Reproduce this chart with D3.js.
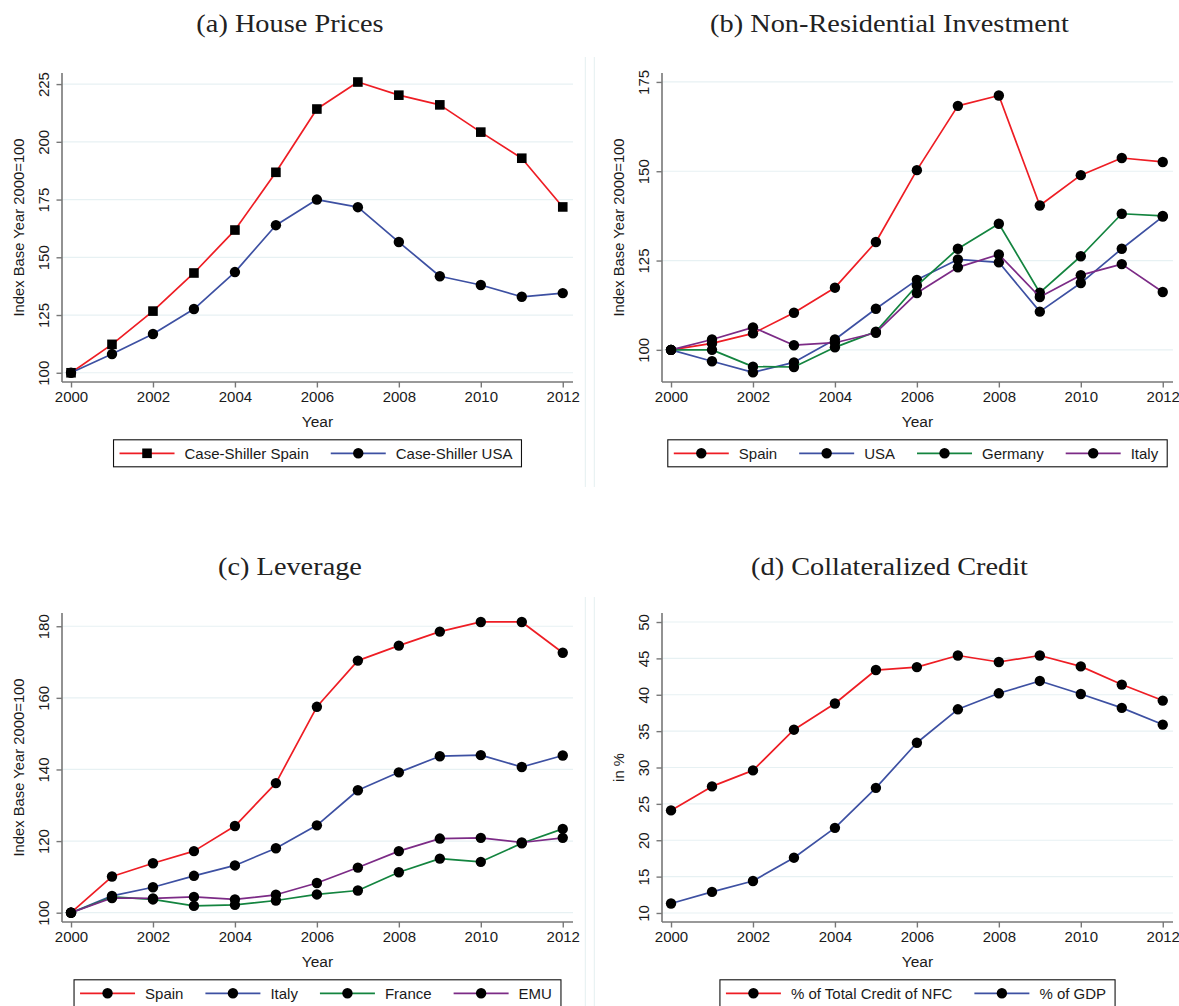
<!DOCTYPE html>
<html>
<head>
<meta charset="utf-8">
<script src="https://cdn.jsdelivr.net/npm/d3@7"></script>
<style>
  body { margin: 0; background: #ffffff; }
  svg { display: block; }
  text { font-family: "Liberation Sans", Arial, Helvetica, sans-serif; fill: #1a1a1a; }
  .title { font-family: "Liberation Serif", "Times New Roman", serif; fill: #222222; }
</style>
</head>
<body>
<svg id="fig" width="1179" height="1006"></svg>
<script>
// ---- data ----
const years = [2000, 2001, 2002, 2003, 2004, 2005, 2006, 2007, 2008, 2009, 2010, 2011, 2012];
const yearTicks = [2000, 2002, 2004, 2006, 2008, 2010, 2012];

// (a) house prices, index 2000=100
const priceSpain = [100, 112.3, 126.7, 143.2, 161.8, 186.8, 214.2, 225.9, 220.2, 216.0, 204.2, 192.9, 171.8];
const priceUSA   = [100, 108.1, 116.8, 127.6, 143.6, 163.9, 175.0, 171.7, 156.6, 141.8, 138.0, 132.9, 134.5];
const priceTicks = [100, 125, 150, 175, 200, 225];

// (b) non-residential investment, index 2000=100
const invSpain   = [100, 101.8, 104.6, 110.4, 117.4, 130.2, 150.3, 168.3, 171.2, 140.4, 148.9, 153.7, 152.6];
const invUSA     = [100, 96.8, 93.7, 96.5, 102.9, 111.5, 119.6, 125.3, 124.5, 110.7, 118.7, 128.3, 137.3];
const invGermany = [100, 100.0, 95.3, 95.2, 100.7, 105.1, 118.0, 128.3, 135.3, 116.0, 126.2, 138.1, 137.5];
const invItaly   = [100, 102.9, 106.3, 101.3, 102.0, 104.8, 115.9, 123.1, 126.7, 114.8, 120.9, 124.0, 116.2];
const invTicks   = [100, 125, 150, 175];

// (c) leverage, index 2000=100
const levSpain  = [100, 110.1, 113.8, 117.2, 124.2, 136.2, 157.5, 170.4, 174.6, 178.5, 181.2, 181.2, 172.6];
const levItaly  = [100, 104.7, 107.1, 110.3, 113.2, 118.0, 124.4, 134.2, 139.2, 143.7, 144.0, 140.7, 143.9];
const levFrance = [100, 104.4, 103.7, 101.9, 102.2, 103.4, 105.1, 106.2, 111.3, 115.1, 114.2, 119.4, 123.4];
const levEMU    = [100, 104.1, 104.0, 104.4, 103.7, 105.0, 108.3, 112.6, 117.2, 120.7, 120.9, 119.6, 120.9];
const levTicks  = [100, 120, 140, 160, 180];

// (d) collateralized credit, in %
const creditNFC = [24.1, 27.4, 29.6, 35.2, 38.8, 43.4, 43.8, 45.4, 44.5, 45.4, 43.9, 41.4, 39.2];
const creditGDP = [11.3, 12.9, 14.4, 17.6, 21.7, 27.2, 33.4, 38.0, 40.2, 41.9, 40.1, 38.2, 35.9];
const creditTicks = [10, 15, 20, 25, 30, 35, 40, 45, 50];

const titles = ["(a) House Prices", "(b) Non-Residential Investment", "(c) Leverage", "(d) Collateralized Credit"];
const xLabel = "Year";
const indexLabel = "Index Base Year 2000=100";
const percentLabel = "in %";

// ---- styling ----
const RED = "#ee1d24", BLUE = "#3d50a2", GREEN = "#13843f", PURPLE = "#7c2b86";
const AXIS = "#777777", GRID = "#e7f1f3";

const panels = [
  { title: titles[0], col: 0, row: 0, yDomain: [96.0, 229.8], yTicks: priceTicks, yLabel: indexLabel,
    series: [
      { name: "Case-Shiller Spain", values: priceSpain, color: RED, marker: "square" },
      { name: "Case-Shiller USA", values: priceUSA, color: BLUE, marker: "circle" }
    ] },
  { title: titles[1], col: 1, row: 0, yDomain: [91.0, 177.5], yTicks: invTicks, yLabel: indexLabel,
    series: [
      { name: "Spain", values: invSpain, color: RED, marker: "circle" },
      { name: "USA", values: invUSA, color: BLUE, marker: "circle" },
      { name: "Germany", values: invGermany, color: GREEN, marker: "circle" },
      { name: "Italy", values: invItaly, color: PURPLE, marker: "circle" }
    ] },
  { title: titles[2], col: 0, row: 1, yDomain: [97.4, 183.7], yTicks: levTicks, yLabel: indexLabel,
    series: [
      { name: "Spain", values: levSpain, color: RED, marker: "circle" },
      { name: "Italy", values: levItaly, color: BLUE, marker: "circle" },
      { name: "France", values: levFrance, color: GREEN, marker: "circle" },
      { name: "EMU", values: levEMU, color: PURPLE, marker: "circle" }
    ] },
  { title: titles[3], col: 1, row: 1, yDomain: [8.76, 51.24], yTicks: creditTicks, yLabel: percentLabel,
    series: [
      { name: "% of Total Credit of NFC", values: creditNFC, color: RED, marker: "circle" },
      { name: "% of GDP", values: creditGDP, color: BLUE, marker: "circle" }
    ] }
];

// ---- layout ----
const colX = [62, 662];          // left edge of each plot region
const rowY = [73, 613];          // top edge of each plot region
const plotW = 511, plotH = 309;
const titleCX = [290, 889.5];
const titleBase = [31.7, 574.7];
const frameX = [585.3, 594.3];
const xDomain = [1999.78, 2012.25];

const svg = d3.select("#fig");

// faint frames between the sub-figures
[[57, 487], [597, 1006]].forEach(([a, b]) => {
  frameX.forEach(x => {
    svg.append("line").attr("x1", x).attr("x2", x).attr("y1", a).attr("y2", b)
      .attr("stroke", "#e4eff1").attr("stroke-width", 1);
  });
});

function drawMarker(g, type, x, y) {
  if (type === "square") {
    const s = 9.6;
    g.append("rect").attr("x", x - s / 2).attr("y", y - s / 2).attr("width", s).attr("height", s)
      .attr("fill", "#000");
  } else {
    g.append("circle").attr("cx", x).attr("cy", y).attr("r", 5.2).attr("fill", "#000");
  }
}

panels.forEach(p => {
  const x0 = colX[p.col], y0 = rowY[p.row];
  const x = d3.scaleLinear().domain(xDomain).range([x0, x0 + plotW]);
  const y = d3.scaleLinear().domain(p.yDomain).range([y0 + plotH, y0]);

  // title
  const tg = svg.append("g").attr("transform", `translate(${titleCX[p.col]},${titleBase[p.row]}) scale(1.09,1)`);
  tg.append("text").attr("class", "title").attr("text-anchor", "middle")
    .attr("font-size", 26).text(p.title);

  // gridlines
  svg.append("g").selectAll("line").data(p.yTicks).join("line")
    .attr("x1", x0).attr("x2", x0 + plotW)
    .attr("y1", d => y(d)).attr("y2", d => y(d))
    .attr("stroke", GRID).attr("stroke-width", 1.2);

  // y axis
  const ya = svg.append("g").attr("transform", `translate(${x0},0)`)
    .call(d3.axisLeft(y).tickValues(p.yTicks).tickSize(5.5).tickFormat(d3.format("d")));
  ya.select(".domain").attr("d", `M0,${y0}V${y0 + plotH}`).attr("stroke", AXIS).attr("stroke-width", 1.6);
  ya.selectAll(".tick line").attr("stroke", AXIS).attr("stroke-width", 1.4);
  ya.selectAll(".tick text")
    .attr("x", null).attr("dy", null).attr("y", null)
    .attr("text-anchor", "middle").attr("font-size", 15).attr("fill", "#1a1a1a")
    .attr("font-family", "Liberation Sans, Arial, sans-serif")
    .attr("transform", "translate(-13.3,0) rotate(-90)");

  // x axis
  const xa = svg.append("g").attr("transform", `translate(0,${y0 + plotH})`)
    .call(d3.axisBottom(x).tickValues(yearTicks).tickSize(5.5).tickFormat(d3.format("d")));
  xa.select(".domain").attr("d", `M${x0},0H${x0 + plotW}`).attr("stroke", AXIS).attr("stroke-width", 1.6);
  xa.selectAll(".tick line").attr("stroke", AXIS).attr("stroke-width", 1.4);
  xa.selectAll(".tick text")
    .attr("y", 19.5).attr("dy", null)
    .attr("font-size", 15).attr("fill", "#1a1a1a")
    .attr("font-family", "Liberation Sans, Arial, sans-serif");

  // axis titles
  svg.append("text").attr("x", x0 + plotW / 2).attr("y", y0 + plotH + 44.5)
    .attr("text-anchor", "middle").attr("font-size", 15.5).text(xLabel);
  svg.append("text")
    .attr("transform", `translate(${x0 - 37.7},${y0 + plotH / 2}) rotate(-90)`)
    .attr("text-anchor", "middle").attr("font-size", 14.8).text(p.yLabel);

  // series
  const line = d3.line().x((d, i) => x(years[i])).y(d => y(d));
  p.series.forEach(s => {
    const g = svg.append("g");
    g.append("path").attr("d", line(s.values)).attr("fill", "none")
      .attr("stroke", s.color).attr("stroke-width", 1.7).attr("stroke-linejoin", "round");
    s.values.forEach((v, i) => drawMarker(g, s.marker, x(years[i]), y(v)));
  });

  // legend
  const lg = svg.append("g");
  const boxTop = y0 + plotH + 57.8, boxH = 27;
  const cy = boxTop + boxH / 2;
  const keyLen = 55, keyGap = 10, itemGap = 22, padL = 6, padR = 9;
  let cx = 0;
  const items = lg.append("g");
  p.series.forEach((s, i) => {
    if (i > 0) cx += itemGap;
    items.append("line").attr("x1", cx).attr("x2", cx + keyLen).attr("y1", cy).attr("y2", cy)
      .attr("stroke", s.color).attr("stroke-width", 1.7);
    drawMarker(items, s.marker === "square" ? "square" : "circle", cx + keyLen / 2, cy);
    cx += keyLen + keyGap;
    const t = items.append("text").attr("x", cx).attr("y", cy + 5.4).attr("font-size", 15).text(s.name);
    cx += t.node().getComputedTextLength();
  });
  const total = padL + cx + padR;
  const left = x0 + plotW / 2 - total / 2;
  items.attr("transform", `translate(${left + padL},0)`);
  lg.insert("rect", ":first-child").attr("x", left).attr("y", boxTop).attr("width", total).attr("height", boxH)
    .attr("fill", "#fff").attr("stroke", "#111").attr("stroke-width", 1.1);
});
</script>
</body>
</html>
